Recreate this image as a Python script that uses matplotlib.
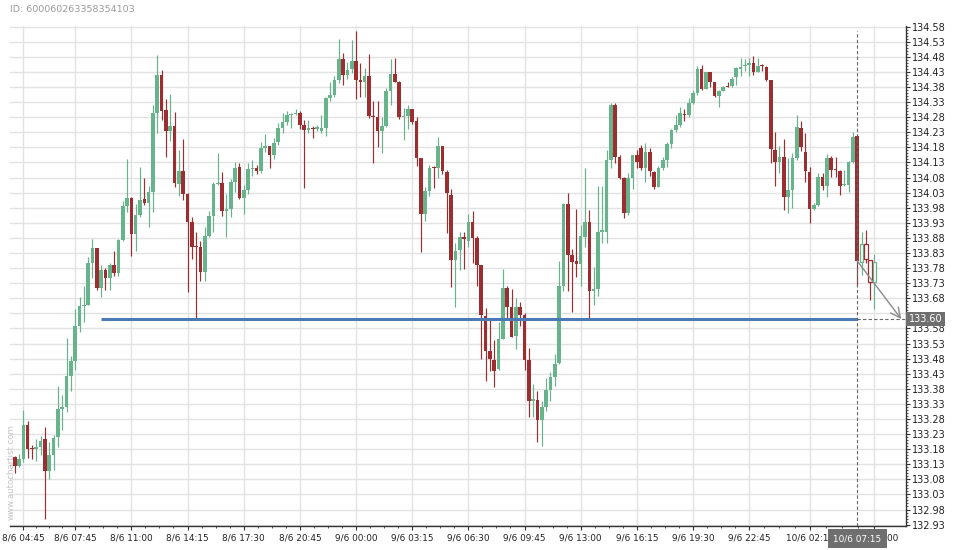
import matplotlib
matplotlib.use("Agg")
import matplotlib.pyplot as plt
import matplotlib.transforms as mtrans
from matplotlib.patches import Rectangle
import numpy as np

# ---------------- data (15-minute candles, index 0 = 8/6 04:15) ----------------
opens = [
    133.154, 133.125, 133.148, 133.260, 133.182, 133.180, 133.188, 133.214, 133.106, 133.161,
    133.219, 133.313, 133.318, 133.423, 133.472, 133.588, 133.654, 133.658, 133.798, 133.847,
    133.713, 133.772, 133.746, 133.790, 133.763, 133.873, 133.984, 134.011, 133.892, 133.956,
    134.008, 133.995, 134.031, 134.295, 134.420, 134.304, 134.235, 134.251, 134.059, 134.102,
    134.026, 133.934, 133.853, 133.850, 133.768, 133.886, 133.954, 134.059, 134.062, 133.970,
    133.976, 134.064, 134.114, 134.013, 134.039, 134.107, 134.113, 134.100, 134.177, 134.185,
    134.153, 134.199, 134.245, 134.263, 134.287, 134.291, 134.293, 134.254, 134.238, 134.245,
    134.241, 134.235, 134.245, 134.343, 134.354, 134.403, 134.473, 134.420, 134.440, 134.466,
    134.403, 134.395, 134.417, 134.284, 134.280, 134.234, 134.251, 134.365, 134.423, 134.398,
    134.280, 134.284, 134.307, 134.267, 134.146, 133.958, 134.036, 134.113, 134.111, 134.185,
    134.097, 134.022, 133.807, 133.840, 133.882, 133.871, 133.931, 133.881, 133.790, 133.621,
    133.505, 133.476, 133.446, 133.545, 133.715, 133.652, 133.555, 133.652, 133.625, 133.476,
    133.341, 133.343, 133.275, 133.321, 133.376, 133.420, 133.464, 133.719, 133.992, 133.823,
    133.804, 133.794, 133.884, 133.931, 133.705, 133.711, 133.901, 133.901, 134.138, 134.321,
    134.149, 134.080, 133.962, 134.080, 134.153, 134.177, 134.113, 134.164, 134.097, 134.050,
    134.113, 134.138, 134.191, 134.238, 134.254, 134.291, 134.287, 134.326, 134.361, 134.440,
    134.374, 134.428, 134.396, 134.351, 134.367, 134.383, 134.383, 134.412, 134.441, 134.448,
    134.454, 134.459, 134.430, 134.450, 134.445, 134.403, 134.171, 134.133, 134.147, 134.017,
    134.039, 134.146, 134.243, 134.164, 134.097, 133.975, 133.989, 134.083, 134.053, 134.146,
    134.108, 134.102, 134.055, 134.055, 134.133, 134.218, 133.801, 133.860, 133.807, 133.735,
]
highs = [
    133.157, 133.163, 133.310, 133.273, 133.194, 133.213, 133.224, 133.252, 133.203, 133.227,
    133.389, 133.358, 133.547, 133.487, 133.643, 133.685, 133.719, 133.818, 133.877, 133.847,
    133.790, 133.779, 133.796, 133.837, 133.875, 134.002, 134.140, 134.017, 133.991, 134.114,
    134.078, 134.052, 134.321, 134.486, 134.437, 134.339, 134.356, 134.296, 134.171, 134.207,
    134.028, 133.950, 133.899, 133.871, 133.915, 133.969, 134.066, 134.160, 134.097, 134.026,
    134.075, 134.133, 134.127, 134.055, 134.127, 134.138, 134.122, 134.197, 134.224, 134.185,
    134.210, 134.260, 134.293, 134.300, 134.295, 134.308, 134.301, 134.269, 134.271, 134.251,
    134.254, 134.287, 134.348, 134.396, 134.417, 134.538, 134.492, 134.464, 134.536, 134.566,
    134.459, 134.442, 134.488, 134.332, 134.332, 134.280, 134.376, 134.472, 134.475, 134.401,
    134.309, 134.321, 134.307, 134.280, 134.146, 134.050, 134.122, 134.118, 134.213, 134.185,
    134.105, 134.041, 133.862, 133.901, 133.901, 133.958, 133.969, 133.886, 133.790, 133.647,
    133.610, 133.540, 133.600, 133.777, 133.721, 133.710, 133.680, 133.666, 133.630, 133.514,
    133.395, 133.373, 133.341, 133.417, 133.437, 133.494, 133.804, 133.997, 134.030, 133.842,
    133.975, 133.923, 134.113, 133.973, 133.783, 134.052, 134.052, 134.171, 134.327, 134.327,
    134.155, 134.083, 134.096, 134.155, 134.171, 134.188, 134.194, 134.177, 134.103, 134.118,
    134.149, 134.196, 134.240, 134.287, 134.315, 134.306, 134.343, 134.370, 134.448, 134.453,
    134.431, 134.428, 134.398, 134.370, 134.383, 134.398, 134.412, 134.445, 134.475, 134.472,
    134.475, 134.483, 134.475, 134.455, 134.448, 134.403, 134.232, 134.185, 134.207, 134.144,
    134.160, 134.287, 134.267, 134.227, 134.116, 133.995, 134.094, 134.096, 134.157, 134.152,
    134.149, 134.105, 134.105, 134.136, 134.232, 134.221, 133.901, 133.906, 133.807, 133.827,
]
lows = [
    133.102, 133.120, 133.139, 133.150, 133.146, 133.141, 133.160, 132.948, 133.080, 133.111,
    133.186, 133.244, 133.304, 133.373, 133.442, 133.567, 133.600, 133.656, 133.746, 133.708,
    133.683, 133.708, 133.708, 133.754, 133.754, 133.870, 133.965, 133.820, 133.837, 133.950,
    133.989, 133.915, 133.965, 134.227, 134.271, 134.149, 134.201, 134.047, 134.020, 134.006,
    133.702, 133.809, 133.613, 133.737, 133.738, 133.882, 133.901, 134.055, 133.954, 133.884,
    133.948, 134.033, 134.008, 133.958, 134.026, 134.085, 134.092, 134.094, 134.163, 134.111,
    134.140, 134.188, 134.227, 134.254, 134.243, 134.287, 134.240, 134.044, 134.229, 134.210,
    134.234, 134.229, 134.218, 134.332, 134.348, 134.392, 134.385, 134.407, 134.425, 134.339,
    134.348, 134.348, 134.276, 134.129, 134.182, 134.160, 134.247, 134.321, 134.395, 134.273,
    134.205, 134.240, 134.256, 134.118, 133.832, 133.937, 134.020, 134.044, 134.078, 134.091,
    133.895, 133.716, 133.650, 133.774, 133.776, 133.851, 133.798, 133.721, 133.478, 133.407,
    133.440, 133.387, 133.442, 133.544, 133.608, 133.551, 133.511, 133.589, 133.442, 133.286,
    133.285, 133.203, 133.191, 133.308, 133.341, 133.390, 133.462, 133.704, 133.705, 133.633,
    133.752, 133.719, 133.849, 133.608, 133.658, 133.689, 133.864, 133.862, 134.111, 134.129,
    134.075, 133.945, 133.956, 134.041, 134.113, 134.105, 134.066, 134.085, 134.041, 134.047,
    134.105, 134.116, 134.177, 134.232, 134.247, 134.267, 134.280, 134.324, 134.354, 134.370,
    134.372, 134.381, 134.348, 134.313, 134.365, 134.379, 134.381, 134.387, 134.417, 134.434,
    134.417, 134.420, 134.428, 134.434, 134.401, 134.127, 134.052, 134.094, 133.973, 133.964,
    133.978, 134.138, 134.168, 134.066, 133.928, 133.973, 133.986, 134.039, 134.017, 134.081,
    134.083, 134.022, 134.053, 134.031, 134.129, 133.722, 133.757, 133.796, 133.674, 133.643,
]
closes = [
    133.125, 133.148, 133.260, 133.181, 133.180, 133.188, 133.207, 133.106, 133.161, 133.217,
    133.313, 133.320, 133.423, 133.472, 133.588, 133.654, 133.658, 133.798, 133.846, 133.715,
    133.774, 133.746, 133.790, 133.763, 133.873, 133.984, 134.011, 133.892, 133.956, 134.006,
    133.995, 134.031, 134.295, 134.420, 134.302, 134.235, 134.251, 134.063, 134.102, 134.026,
    133.934, 133.851, 133.850, 133.768, 133.886, 133.954, 134.060, 134.062, 133.970, 133.976,
    134.064, 134.111, 134.013, 134.039, 134.107, 134.113, 134.100, 134.177, 134.185, 134.153,
    134.194, 134.245, 134.263, 134.287, 134.291, 134.295, 134.254, 134.238, 134.243, 134.241,
    134.247, 134.245, 134.343, 134.354, 134.403, 134.473, 134.420, 134.437, 134.466, 134.403,
    134.395, 134.417, 134.284, 134.281, 134.234, 134.251, 134.365, 134.423, 134.398, 134.280,
    134.284, 134.307, 134.265, 134.146, 133.958, 134.036, 134.113, 134.110, 134.185, 134.100,
    134.028, 133.807, 133.835, 133.882, 133.875, 133.931, 133.879, 133.790, 133.625, 133.505,
    133.479, 133.440, 133.545, 133.715, 133.652, 133.553, 133.652, 133.625, 133.476, 133.341,
    133.345, 133.277, 133.318, 133.376, 133.420, 133.462, 133.721, 133.992, 133.823, 133.801,
    133.794, 133.886, 133.931, 133.705, 133.711, 133.898, 133.903, 134.138, 134.321, 134.149,
    134.080, 133.962, 134.080, 134.153, 134.133, 134.111, 134.164, 134.103, 134.050, 134.113,
    134.138, 134.191, 134.238, 134.254, 134.295, 134.287, 134.326, 134.361, 134.440, 134.374,
    134.428, 134.398, 134.351, 134.368, 134.381, 134.381, 134.407, 134.443, 134.443, 134.451,
    134.461, 134.430, 134.450, 134.448, 134.403, 134.174, 134.133, 134.149, 134.017, 134.039,
    134.146, 134.247, 134.182, 134.100, 133.975, 133.989, 134.083, 134.053, 134.146, 134.105,
    134.105, 134.053, 134.059, 134.131, 134.213, 133.804, 133.860, 133.809, 133.735, 133.799,
]

tick_index = [2, 14, 27, 40, 53, 66, 79, 92, 105, 118, 131, 144, 157, 170, 184, 199]
tick_labels = ["8/6 04:45", "8/6 07:45", "8/6 11:00", "8/6 14:15", "8/6 17:30",
               "8/6 20:45", "9/6 00:00", "9/6 03:15", "9/6 06:30", "9/6 09:45",
               "9/6 13:00", "9/6 16:15", "9/6 19:30", "9/6 22:45", "10/6 02:15",
               "10/6 08:00"]
y_ticks = [round(132.93 + 0.05 * k, 2) for k in range(34)]

level = 133.611          # support line
level_label = "133.60"
line_start = 20          # candle index where the support line starts
pattern_end = 195        # candle index of the pattern end (dashed line)
pattern_label = "10/6 07:15"
chart_id = "ID: 600060263358354103"
watermark = "www.autochartist.com"

# ---------------- styling ----------------
GREEN = "#67b38c"
RED = "#9c2e31"
GRID = "#e2e2e2"
AXIS = "#333333"

plt.rcParams["font.family"] = ["DejaVu Sans"]

fig = plt.figure(figsize=(9.6, 5.5), dpi=100)
ax = fig.add_axes([10 / 960, 24.5 / 550, 896 / 960, 499.2 / 550])

n = len(opens)
body_w = 0.84
for i in range(n):
    o, h, l, c = opens[i], highs[i], lows[i], closes[i]
    col = GREEN if c >= o else RED
    hollow = i > pattern_end
    ax.vlines(i, l, h, color=col, lw=0.85, zorder=3)
    bottom = min(o, c)
    height = max(abs(c - o), 0.0035)
    if hollow:
        ax.add_patch(Rectangle((i - body_w / 2, bottom), body_w, height,
                               facecolor="white", edgecolor=col, lw=0.9, zorder=4))
    else:
        ax.add_patch(Rectangle((i - body_w / 2, bottom), body_w, height,
                               facecolor=col, edgecolor="none", lw=0, zorder=4))

x_lo, x_hi = -1.09, 206.3
y_lo, y_hi = 132.927, 134.581
ax.set_xlim(x_lo, x_hi)
ax.set_ylim(y_lo, y_hi)

# support level
ax.hlines(level, line_start, pattern_end, color="#4c7ab5", lw=2.2, zorder=5)
ax.hlines(level, pattern_end, x_hi, color="#666666", lw=0.8,
          linestyles=(0, (3, 2)), zorder=5)
ax.vlines(pattern_end, y_lo, 134.565, color="#666666", lw=0.8,
          linestyles=(0, (3, 2)), zorder=5)
ax.annotate("", xy=(205.2, level), xytext=(pattern_end, closes[pattern_end]),
            arrowprops=dict(arrowstyle="->,head_length=0.7,head_width=0.35",
                            color="#8a8a8a", lw=1.0, shrinkA=0, shrinkB=0),
            zorder=6)

# grid
ax.set_yticks(y_ticks)
ax.set_yticks(np.arange(132.93, 134.585, 0.01), minor=True)
ax.set_xticks(tick_index)
ax.set_xticklabels(tick_labels)
minor_x = []
for a, b in zip(tick_index[:-1], tick_index[1:]):
    minor_x += [a + (b - a) * k / 4 for k in (1, 2, 3)]
ax.set_xticks(minor_x, minor=True)
ax.grid(True, which="major", color=GRID, lw=1.0, zorder=0)
ax.set_axisbelow(True)

for s in ("left", "top"):
    ax.spines[s].set_visible(False)
for s in ("right", "bottom"):
    ax.spines[s].set_color(AXIS)
    ax.spines[s].set_linewidth(1.0)

ax.yaxis.tick_right()
# the tick label hidden behind the level box in the reference is left blank
ax.yaxis.set_ticklabels(["" if abs(v - level) < 0.025 else f"{v:.2f}" for v in y_ticks])
ax.tick_params(axis="y", which="major", length=3, width=0.8, color=AXIS,
               labelsize=7, pad=1.5, labelcolor="#222222")
ax.tick_params(axis="y", which="minor", length=1.5, width=0.6, color=AXIS)
ax.tick_params(axis="x", which="major", length=3, width=0.8, color=AXIS,
               labelsize=6.4, pad=3, labelcolor="#222222")
ax.tick_params(axis="x", which="minor", length=1.5, width=0.6, color=AXIS)

# value / time labels on the axes
blend_y = mtrans.blended_transform_factory(ax.transAxes, ax.transData)
ax.text(1.0 + 2.5 / 896, level, level_label, transform=blend_y, ha="left",
        va="center", color="white", fontsize=7, clip_on=False, zorder=10,
        bbox=dict(boxstyle="square,pad=0.25", fc="#6f6f6f", ec="none"))
blend_x = mtrans.blended_transform_factory(ax.transData, ax.transAxes)
ax.text(pattern_end, -13 / 499.2, pattern_label, transform=blend_x, ha="center",
        va="center", color="white", fontsize=6.4, clip_on=False, zorder=10,
        bbox=dict(boxstyle="square,pad=0.6", fc="#6f6f6f", ec="none"))

fig.text(10 / 960, 1 - 10 / 550, chart_id, ha="left", va="center",
         color="#9a9a9a", fontsize=6.8)
fig.text(11 / 960, 1 - 520 / 550, watermark, rotation=90, ha="center",
         va="bottom", color="#c4c4c4", fontsize=6.2)

fig.savefig("out.png", dpi=100, facecolor="white")
